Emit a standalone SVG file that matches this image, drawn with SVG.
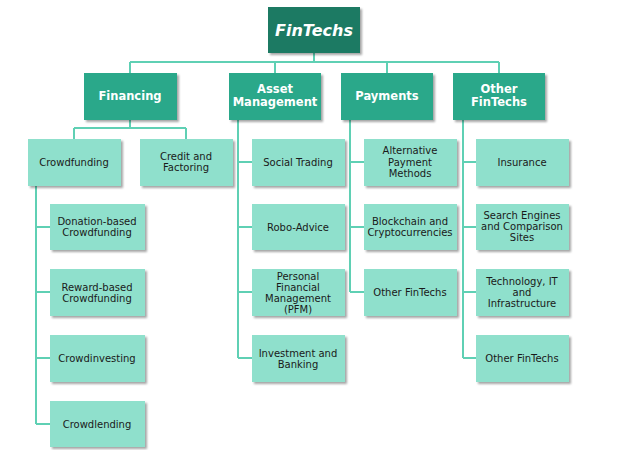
<svg xmlns="http://www.w3.org/2000/svg" width="617" height="450" viewBox="0 0 617 450">
<defs>
<filter id="sh" x="-10%" y="-10%" width="130%" height="140%"><feDropShadow dx="2" dy="2" stdDeviation="1.2" flood-color="#000" flood-opacity="0.35"/></filter>
<style>
.l{fill:#8fe0cc;filter:url(#sh)}
.m{fill:#2aa88a;filter:url(#sh)}
.d{fill:#1c7a63;filter:url(#sh)}
text{font-family:Verdana,"DejaVu Sans",sans-serif;font-size:10px;fill:#1a1a1a;text-anchor:middle}
.w{fill:#fff;font-weight:bold;font-size:11.5px}
.c{fill:none;stroke:#5fd0b4;stroke-width:2}
</style>
</defs>
<rect width="617" height="450" fill="#fff"/>
<g id="connectors" class="c">
<path d="M314 53V62M130 62H499M130 62V73M275 62V73M387 62V73M499 62V73"/>
<path d="M130 120V128M74 128H186M74 128V139M186 128V139"/>
<path d="M36 186V424M36 227H50M36 292H50M36 358H50M36 424H50"/>
<path d="M238 120V358M238 162H252M238 227H252M238 292H252M238 358H252"/>
<path d="M350 120V292M350 162H364M350 227H364M350 292H364"/>
<path d="M463 120V358M463 162H476M463 227H476M463 292H476M463 358H476"/>
</g>
<g id="fintechs"><rect class="d" x="268" y="7" width="92" height="46"/><text x="314" y="36" class="w" style="font-size:16px;font-style:italic">FinTechs</text></g>
<g id="financing"><rect class="m" x="84" y="73" width="93" height="47"/><text x="130" y="100" class="w">Financing</text></g>
<g id="asset"><rect class="m" x="229" y="73" width="92" height="47"/><text x="275" y="93" class="w">Asset</text><text x="275" y="106" class="w">Management</text></g>
<g id="payments"><rect class="m" x="341" y="73" width="92" height="47"/><text x="387" y="100" class="w">Payments</text></g>
<g id="other"><rect class="m" x="453" y="73" width="92" height="47"/><text x="499" y="93" class="w">Other</text><text x="499" y="106" class="w">FinTechs</text></g>
<g id="crowdfunding"><rect class="l" x="28" y="139" width="93" height="47"/><text x="74" y="166">Crowdfunding</text></g>
<g id="credit"><rect class="l" x="140" y="139" width="93" height="47"/><text x="186" y="160">Credit and</text><text x="186" y="171">Factoring</text></g>
<g id="donation"><rect class="l" x="50" y="204" width="95" height="46"/><text x="97" y="225">Donation-based</text><text x="97" y="236">Crowdfunding</text></g>
<g id="reward"><rect class="l" x="50" y="269" width="95" height="47"/><text x="97" y="291">Reward-based</text><text x="97" y="302">Crowdfunding</text></g>
<g id="crowdinvesting"><rect class="l" x="50" y="335" width="95" height="47"/><text x="97" y="362">Crowdinvesting</text></g>
<g id="crowdlending"><rect class="l" x="50" y="401" width="95" height="46"/><text x="97" y="428">Crowdlending</text></g>
<g id="social"><rect class="l" x="252" y="139" width="93" height="47"/><text x="298" y="166">Social Trading</text></g>
<g id="robo"><rect class="l" x="252" y="204" width="93" height="46"/><text x="298" y="231">Robo-Advice</text></g>
<g id="pfm"><rect class="l" x="252" y="269" width="93" height="47"/><text x="298" y="280">Personal</text><text x="298" y="291">Financial</text><text x="298" y="302">Management</text><text x="298" y="313">(PFM)</text></g>
<g id="investment"><rect class="l" x="252" y="335" width="93" height="47"/><text x="298" y="357">Investment and</text><text x="298" y="368">Banking</text></g>
<g id="altpay"><rect class="l" x="364" y="139" width="93" height="47"/><text x="410" y="154">Alternative</text><text x="410" y="166">Payment</text><text x="410" y="177">Methods</text></g>
<g id="blockchain"><rect class="l" x="364" y="204" width="93" height="46"/><text x="410" y="225">Blockchain and</text><text x="410" y="236">Cryptocurrencies</text></g>
<g id="otherpay"><rect class="l" x="364" y="269" width="93" height="47"/><text x="410" y="296">Other FinTechs</text></g>
<g id="insurance"><rect class="l" x="476" y="139" width="93" height="47"/><text x="522" y="166">Insurance</text></g>
<g id="search"><rect class="l" x="476" y="204" width="93" height="46"/><text x="522" y="219">Search Engines</text><text x="522" y="230">and Comparison</text><text x="522" y="241">Sites</text></g>
<g id="tech"><rect class="l" x="476" y="269" width="93" height="47"/><text x="522" y="285">Technology, IT</text><text x="522" y="296">and</text><text x="522" y="307">Infrastructure</text></g>
<g id="otherother"><rect class="l" x="476" y="335" width="93" height="47"/><text x="522" y="362">Other FinTechs</text></g>
</svg>
